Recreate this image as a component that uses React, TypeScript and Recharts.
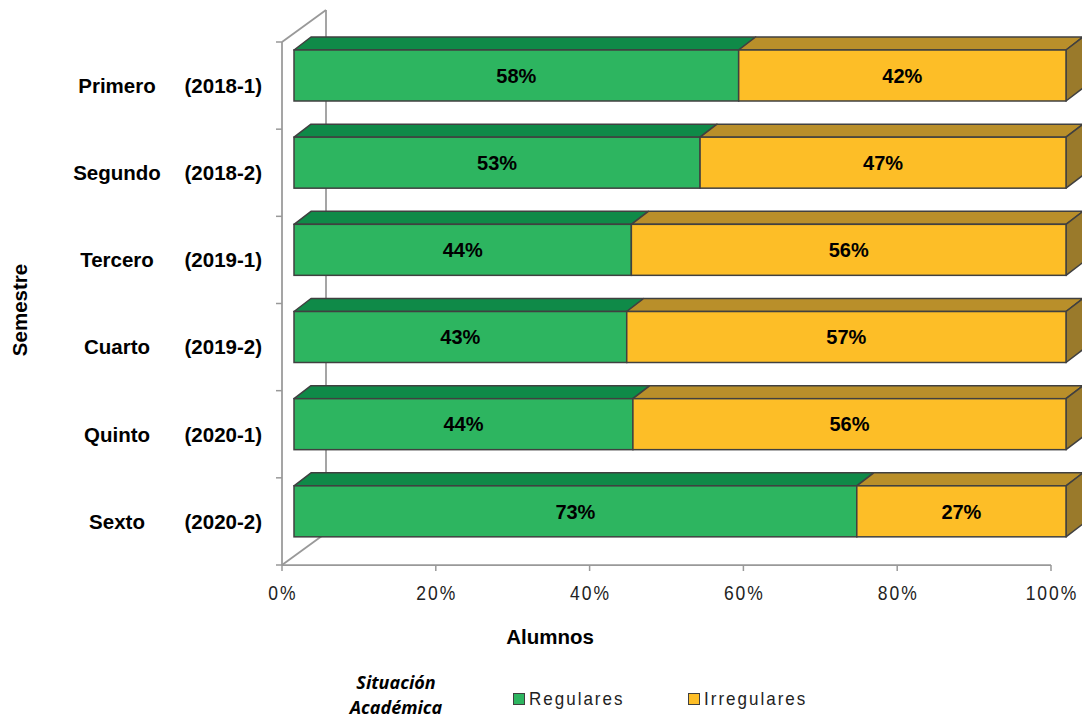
import React from 'react';
import { BarChart, Bar, XAxis, YAxis, Legend, LabelList, Customized } from 'recharts';

// ---------- data ----------
const semestres = ['Primero', 'Segundo', 'Tercero', 'Cuarto', 'Quinto', 'Sexto'];
const periodos = ['(2018-1)', '(2018-2)', '(2019-1)', '(2019-2)', '(2020-1)', '(2020-2)'];
const regulares = [57.6, 52.6, 43.7, 43.1, 43.9, 72.9];
const irregulares = [42.4, 47.4, 56.3, 56.9, 56.1, 27.1];
const xTicks = [0, 20, 40, 60, 80, 100];
const seriesNames = ['Regulares', 'Irregulares'];

const data = semestres.map((s, i) => ({
  name: s,
  periodo: periodos[i],
  reg: regulares[i],
  irr: irregulares[i],
}));

// ---------- layout ----------
const W = 1082;
const H = 719;
const PLOT_L = 282;
const PLOT_R = 1051;
const PLOT_T = 42;
const PLOT_B = 565;
const YAXIS_W = 270;
const XAXIS_H = 40;
const LEGEND_H = 59;
const LEGEND_TOP = 660;
const BAND = (PLOT_B - PLOT_T) / semestres.length;

const BAR_DX = 12;
const BAR_K = 772 / 769;
const LIFT = 10;
const DEPTH_X = 17;
const DEPTH_Y = 13;
const BACK_DX = 44;
const BACK_DY = 32;

const FONT = '"Liberation Sans", Arial, sans-serif';
const FRAME = '#999999';
const EDGE = '#404040';

const COLORS = {
  reg: { front: '#2db560', top: '#0f8a48', side: '#0c6e39' },
  irr: { front: '#fdbe27', top: '#b98f2a', side: '#9a7a2b' },
};

function geom(x: number, y: number, width: number, height: number) {
  const x0 = PLOT_L + BAR_DX + (x - PLOT_L) * BAR_K;
  const w = width * BAR_K;
  const y0 = y - LIFT;
  return { x0, w, y0, h: height };
}

function Bar3D(props: any) {
  const { x, y, width, height, colors, showSide } = props;
  if (width == null || height == null) return null;
  const { x0, w, y0, h } = geom(x, y, width, height);
  const top = `${x0},${y0} ${x0 + w},${y0} ${x0 + w + DEPTH_X},${y0 - DEPTH_Y} ${x0 + DEPTH_X},${y0 - DEPTH_Y}`;
  const side = `${x0 + w},${y0} ${x0 + w + DEPTH_X},${y0 - DEPTH_Y} ${x0 + w + DEPTH_X},${y0 + h - DEPTH_Y} ${x0 + w},${y0 + h}`;
  return (
    <g>
      <polygon points={top} fill={colors.top} stroke={EDGE} strokeWidth={1.5} strokeLinejoin="round" />
      {showSide && <polygon points={side} fill={colors.side} stroke={EDGE} strokeWidth={1.5} strokeLinejoin="round" />}
      <rect x={x0} y={y0} width={w} height={h} fill={colors.front} stroke={EDGE} strokeWidth={1.5} />
    </g>
  );
}

function BarLabel(props: any) {
  const { x, y, width, height, value } = props;
  if (width == null) return null;
  const { x0, w, y0, h } = geom(x, y, width, height);
  return (
    <text
      x={x0 + w / 2}
      y={y0 + h / 2}
      dy="0.36em"
      textAnchor="middle"
      fontFamily={FONT}
      fontWeight="bold"
      fontSize={20}
      fill="#000"
    >
      {`${Math.round(Number(value))}%`}
    </text>
  );
}

function YTick(props: any) {
  const { y, payload, index } = props;
  const i = index ?? semestres.indexOf(payload.value);
  const yTop = y - BAND / 2;
  return (
    <g>
      <line x1={PLOT_L - 6} y1={yTop} x2={PLOT_L} y2={yTop} stroke={FRAME} strokeWidth={1.5} />
      {i === semestres.length - 1 && (
        <line x1={PLOT_L - 6} y1={y + BAND / 2} x2={PLOT_L} y2={y + BAND / 2} stroke={FRAME} strokeWidth={1.5} />
      )}
      <text x={117} y={y} dy="0.36em" textAnchor="middle" fontFamily={FONT} fontWeight="bold" fontSize={20.5} fill="#000">
        {payload.value}
      </text>
      <text x={262} y={y} dy="0.36em" textAnchor="end" fontFamily={FONT} fontWeight="bold" fontSize={20.5} fill="#000">
        {periodos[i]}
      </text>
    </g>
  );
}

function XTick(props: any) {
  const { x, payload } = props;
  return (
    <g>
      <line x1={x} y1={PLOT_B} x2={x} y2={PLOT_B + 6} stroke={FRAME} strokeWidth={1.5} />
      <g transform={`translate(${x + 1}, ${PLOT_B + 28}) scale(1, 1.13)`}>
        <text
          x={0}
          y={0}
          dy="0.36em"
          textAnchor="middle"
          fontFamily={FONT}
          fontSize={17.5}
          letterSpacing={2}
          fill="#222"
        >
          {`${payload.value}%`}
        </text>
      </g>
    </g>
  );
}

function Frame() {
  return (
    <g>
      <line x1={PLOT_L + BACK_DX} y1={PLOT_T - BACK_DY} x2={PLOT_L + BACK_DX} y2={PLOT_B - BACK_DY} stroke={FRAME} strokeWidth={1.75} />
      <line x1={PLOT_L} y1={PLOT_T} x2={PLOT_L + BACK_DX} y2={PLOT_T - BACK_DY} stroke={FRAME} strokeWidth={1.75} />
      <line x1={PLOT_L} y1={PLOT_B} x2={PLOT_L + BACK_DX} y2={PLOT_B - BACK_DY} stroke={FRAME} strokeWidth={1.75} />
      <text
        transform={`translate(20, 310) rotate(-90)`}
        textAnchor="middle"
        dy="0.36em"
        fontFamily={FONT}
        fontWeight="bold"
        fontSize={20.5}
        fill="#000"
      >
        Semestre
      </text>
      <text x={550} y={637} dy="0.36em" textAnchor="middle" fontFamily={FONT} fontWeight="bold" fontSize={20.5} fill="#000">
        Alumnos
      </text>
    </g>
  );
}

function LegendContent() {
  const items = [
    { name: seriesNames[0], color: COLORS.reg.front, left: 513 },
    { name: seriesNames[1], color: COLORS.irr.front, left: 688 },
  ];
  return (
    <div style={{ position: 'relative', width: W, height: LEGEND_H }}>
      <div
        style={{
          position: 'absolute',
          left: 396 - 80,
          width: 160,
          top: 10,
          textAlign: 'center',
          fontFamily: '"Open Sans", sans-serif',
          fontStyle: 'italic',
          fontWeight: 'bold',
          fontSize: 18,
          lineHeight: '25px',
          color: '#000',
        }}
      >
        <div>Situación</div>
        <div>Académica</div>
      </div>
      {items.map((it) => (
        <div key={it.name}>
          <div
            style={{
              position: 'absolute',
              left: it.left,
              top: 33,
              width: 12,
              height: 12,
              boxSizing: 'border-box',
              background: it.color,
              border: `1.5px solid ${EDGE}`,
            }}
          />
          <div
            style={{
              position: 'absolute',
              left: it.left + 16,
              top: 29,
              lineHeight: '20px',
              fontFamily: FONT,
              fontSize: 17,
              letterSpacing: 2,
              color: '#222',
              whiteSpace: 'nowrap',
              transform: 'scaleY(1.13)',
              transformOrigin: 'left center',
            }}
          >
            {it.name}
          </div>
        </div>
      ))}
    </div>
  );
}

export default function App() {
  return (
    <div style={{ position: 'absolute', left: 0, top: 0, width: W, height: H, background: '#fff' }}>
      <BarChart
        width={W}
        height={H}
        data={data}
        layout="vertical"
        barSize={51}
        margin={{
          top: PLOT_T,
          right: W - PLOT_R,
          left: PLOT_L - YAXIS_W,
          bottom: H - PLOT_B - XAXIS_H - LEGEND_H,
        }}
      >
        <Customized component={Frame} />
        <XAxis
          type="number"
          domain={[0, 100]}
          ticks={xTicks}
          height={XAXIS_H}
          axisLine={{ stroke: FRAME, strokeWidth: 1.75 }}
          tickLine={false}
          tick={<XTick />}
          interval={0}
        />
        <YAxis
          type="category"
          dataKey="name"
          width={YAXIS_W}
          axisLine={{ stroke: FRAME, strokeWidth: 1.75 }}
          tickLine={false}
          tick={<YTick />}
          interval={0}
        />
        <Legend
          verticalAlign="bottom"
          height={LEGEND_H}
          content={() => <LegendContent />}
          wrapperStyle={{ left: 0, top: LEGEND_TOP, bottom: 'auto', width: W, height: LEGEND_H }}
        />
        <Bar
          dataKey="reg"
          stackId="s"
          name={seriesNames[0]}
          isAnimationActive={false}
          shape={(p: any) => <Bar3D {...p} colors={COLORS.reg} showSide={false} />}
        >
          <LabelList dataKey="reg" content={<BarLabel />} />
        </Bar>
        <Bar
          dataKey="irr"
          stackId="s"
          name={seriesNames[1]}
          isAnimationActive={false}
          shape={(p: any) => <Bar3D {...p} colors={COLORS.irr} showSide={true} />}
        >
          <LabelList dataKey="irr" content={<BarLabel />} />
        </Bar>
      </BarChart>
    </div>
  );
}
